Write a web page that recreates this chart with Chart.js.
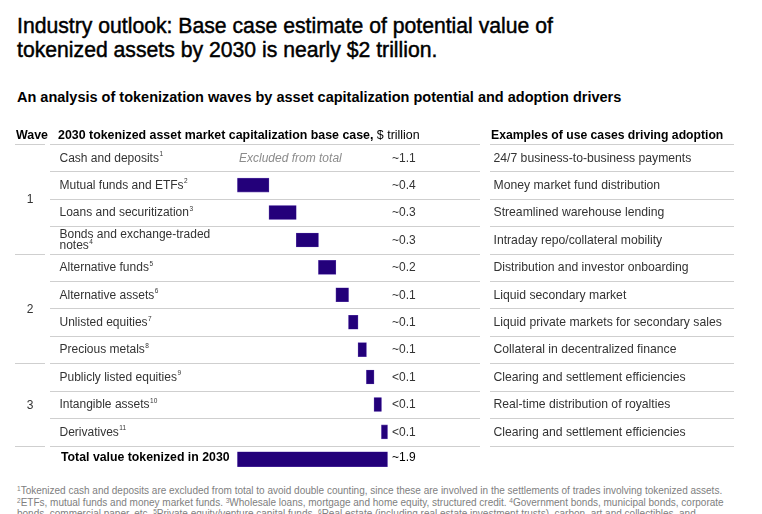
<!DOCTYPE html>
<html>
<head>
<meta charset="utf-8">
<script src="https://cdn.jsdelivr.net/npm/chart.js@4.4.1/dist/chart.umd.min.js"></script>
<style>
  html, body { margin:0; padding:0; background:#fff; }
  body { width:762px; height:514px; position:relative; overflow:hidden; font-family:"Liberation Sans", Arial, sans-serif; }
  #title { position:absolute; left:17px; top:14px; font-size:21.2px; line-height:24px; color:#000; -webkit-text-stroke:0.45px #000; white-space:nowrap; }
  #subtitle { position:absolute; left:17px; top:88px; font-size:14.5px; font-weight:bold; line-height:18px; color:#000; white-space:nowrap; }
  #notes { position:absolute; left:17px; top:485px; font-size:10px; line-height:11.5px; color:#808080; white-space:nowrap; }
  #notes sup { font-size:6.5px; vertical-align:3px; line-height:0; }
  canvas { position:absolute; left:0; top:0; }
</style>
</head>
<body>
<div id="title">Industry outlook: Base case estimate of potential value of<br>tokenized assets by 2030 is nearly $2 trillion.</div>
<div id="subtitle">An analysis of tokenization waves by asset capitalization potential and adoption drivers</div>
<div id="notes"><sup>1</sup>Tokenized cash and deposits are excluded from total to avoid double counting, since these are involved in the settlements of trades involving tokenized assets.<br><sup>2</sup>ETFs, mutual funds and money market funds. <sup>3</sup>Wholesale loans, mortgage and home equity, structured credit. <sup>4</sup>Government bonds, municipal bonds, corporate<br>bonds, commercial paper, etc. <sup>5</sup>Private equity/venture capital funds. <sup>6</sup>Real estate (including real estate investment trusts), carbon, art and collectibles, and</div>
<canvas id="c" width="762" height="514"></canvas>
<script>
// ---- data ----
const categories = ['Cash and deposits','Mutual funds and ETFs','Loans and securitization','Bonds and exchange-traded notes','Alternative funds','Alternative assets','Unlisted equities','Precious metals','Publicly listed equities','Intangible assets','Derivatives'];
const noteNumbers = ['1','2','3','4','5','6','7','8','9','10','11'];
const values = [1.1, 0.40, 0.345, 0.28, 0.22, 0.16, 0.12, 0.106, 0.096, 0.094, 0.076];
const includedInTotal = [false, true, true, true, true, true, true, true, true, true, true];
const valueLabels = ['~1.1','~0.4','~0.3','~0.3','~0.2','~0.1','~0.1','~0.1','<0.1','<0.1','<0.1'];
const waves = [1,1,1,1,2,2,2,2,3,3,3];
const useCases = ['24/7 business-to-business payments','Money market fund distribution','Streamlined warehouse lending','Intraday repo/collateral mobility','Distribution and investor onboarding','Liquid secondary market','Liquid private markets for secondary sales','Collateral in decentralized finance','Clearing and settlement efficiencies','Real-time distribution of royalties','Clearing and settlement efficiencies'];
const totalLabel = 'Total value tokenized in 2030';
const totalValueLabel = '~1.9';
const excludedText = 'Excluded from total';
const headerWave = 'Wave';
const headerBold = '2030 tokenized asset market capitalization base case,';
const headerUnit = ' $ trillion';
const headerUse = 'Examples of use cases driving adoption';

// ---- build floating bars ----
let running = 0;
const stepData = [];
values.forEach((v, i) => {
  if (includedInTotal[i]) { stepData.push([running, running + v]); running += v; }
  else stepData.push(null);
});
stepData.push(null);
const totalData = categories.map(() => null);
totalData.push([0, running]);
const rowLabels = categories.concat([totalLabel]);

const BAR = '#23007a';
const FONT = '"Liberation Sans", Arial, sans-serif';

const tablePlugin = {
  id: 'table',
  beforeDatasetsDraw(chart) {
    const ctx = chart.ctx, y = chart.scales.y;
    const rowH = y.getPixelForValue(1) - y.getPixelForValue(0);
    const top = y.getPixelForValue(0) - rowH / 2;
    ctx.save();
    ctx.strokeStyle = '#cfcfcf';
    ctx.lineWidth = 1;
    const hline = (x1, x2, yy) => { ctx.beginPath(); ctx.moveTo(x1, Math.round(yy) + 0.5); ctx.lineTo(x2, Math.round(yy) + 0.5); ctx.stroke(); };
    for (let i = 0; i <= categories.length; i++) {
      const yy = top + i * rowH;
      hline(50, 480, yy);
      hline(490, 734, yy);
      if (i === 0 || i === categories.length || waves[i] !== waves[i - 1]) hline(15, 45, yy);
    }
    ctx.restore();
  },
  afterDatasetsDraw(chart) {
    const ctx = chart.ctx, y = chart.scales.y;
    const rowH = y.getPixelForValue(1) - y.getPixelForValue(0);
    const top = y.getPixelForValue(0) - rowH / 2;
    ctx.save();
    ctx.textBaseline = 'alphabetic';
    // headers
    const hy = top - 5.5;
    ctx.fillStyle = '#000';
    ctx.font = 'bold 12.4px ' + FONT;
    ctx.fillText(headerWave, 16, hy);
    ctx.fillText(headerBold, 58, hy);
    const w = ctx.measureText(headerBold).width;
    ctx.font = '12.4px ' + FONT;
    ctx.fillText(headerUnit, 58 + w, hy);
    ctx.font = 'bold 12.2px ' + FONT;
    ctx.fillText(headerUse, 491, hy);

    ctx.textBaseline = 'middle';
    const drawSup = (text, sup, x, yy, font) => {
      ctx.font = font;
      ctx.fillText(text, x, yy);
      const tw = ctx.measureText(text).width;
      ctx.font = '6.5px ' + FONT;
      ctx.fillText(sup, x + tw + 0.5, yy - 4);
    };
    categories.forEach((c, i) => {
      const cy = y.getPixelForValue(i);
      ctx.fillStyle = '#333';
      const f = '12px ' + FONT;
      if (c === 'Bonds and exchange-traded notes') {
        ctx.font = f;
        ctx.fillText('Bonds and exchange-traded', 59.5, cy - 5);
        drawSup('notes', noteNumbers[i], 59.5, cy + 6, f);
      } else {
        drawSup(c, noteNumbers[i], 59.5, cy + 0.5, f);
      }
      ctx.font = '12px ' + FONT;
      ctx.fillStyle = '#333';
      ctx.fillText(valueLabels[i], 392, cy + 0.5);
      ctx.font = '12.2px ' + FONT;
      ctx.fillText(useCases[i], 493.5, cy + 0.5);
      if (!includedInTotal[i]) {
        ctx.font = 'italic 12px ' + FONT;
        ctx.fillStyle = '#8c8c8c';
        ctx.fillText(excludedText, 239, cy + 0.5);
      }
    });
    // wave numbers
    const groups = {};
    waves.forEach((wv, i) => { (groups[wv] = groups[wv] || []).push(i); });
    ctx.font = '12px ' + FONT;
    ctx.fillStyle = '#333';
    ctx.textAlign = 'center';
    Object.keys(groups).forEach(k => {
      const idx = groups[k];
      const a = y.getPixelForValue(idx[0]) - rowH / 2;
      const b = y.getPixelForValue(idx[idx.length - 1]) + rowH / 2;
      ctx.fillText(k, 30, (a + b) / 2 + 1);
    });
    ctx.textAlign = 'left';
    // total row
    const ty = y.getPixelForValue(categories.length) - 2;
    ctx.font = 'bold 12.3px ' + FONT;
    ctx.fillStyle = '#000';
    ctx.fillText(totalLabel, 61, ty);
    ctx.font = '12px ' + FONT;
    ctx.fillText(totalValueLabel, 392, ty);
    ctx.restore();
  }
};

new Chart(document.getElementById('c'), {
  type: 'bar',
  data: {
    labels: rowLabels,
    datasets: [
      { data: stepData, backgroundColor: BAR, borderColor: '#5a3aa8', borderWidth: 0.6, borderSkipped: false, barThickness: 14, grouped: false },
      { data: totalData, backgroundColor: BAR, borderColor: '#5a3aa8', borderWidth: 0.6, borderSkipped: false, barThickness: 15, grouped: false }
    ]
  },
  options: {
    indexAxis: 'y',
    responsive: false,
    animation: false,
    devicePixelRatio: 1,
    layout: { padding: { left: 237.3, right: 49.7, top: 144, bottom: 41 } },
    plugins: { legend: { display: false }, tooltip: { enabled: false } },
    scales: {
      x: { display: false, min: 0, max: 6 },
      y: { display: false, offset: true, grid: { display: false } }
    }
  },
  plugins: [tablePlugin]
});
</script>
</body>
</html>
